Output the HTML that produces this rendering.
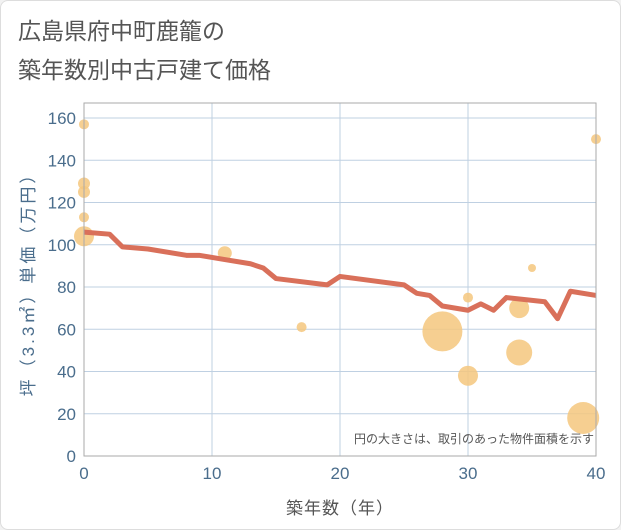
<!DOCTYPE html>
<html><head><meta charset="utf-8"><style>
body{margin:0;background:#f2f2f2;font-family:"Liberation Sans","Noto Sans CJK JP",sans-serif;}
#card{position:absolute;left:0;top:0;width:619px;height:528px;background:#fff;border:1px solid #ddd;border-radius:8px;}
</style></head><body>
<div id="card">
<svg width="621" height="530" style="position:absolute;left:-1px;top:-1px">
<text x="18" y="39" font-size="23" fill="#555">広島県府中町鹿籠の</text>
<text x="18" y="78" font-size="23" fill="#555">築年数別中古戸建て価格</text>
<g id="grid"></g>
<g id="bubbles"></g>
<g id="line"></g>
<g id="axes"></g>
<text x="594" y="443" font-size="12" fill="#555" text-anchor="end">円の大きさは、取引のあった物件面積を示す</text>
<text x="340" y="514" font-size="17" fill="#555" text-anchor="middle" letter-spacing="1">築年数（年）</text>
<text transform="translate(34,280) rotate(-90)" font-size="17" fill="#4a6d8c" text-anchor="middle" letter-spacing="3">坪（3.3㎡）単価（万円）</text>
</svg></div>
<script>
const xTicks=[0,10,20,30,40];
const yTicks=[0,20,40,60,80,100,120,140,160];
const lineX=[0,2,3,5,8,9,11,13,14,15,19,20,25,26,27,28,30,31,32,33,36,37,38,40];
const lineY=[106,105,99,98,95,95,93,91,89,84,81,85,81,77,76,71,69,72,69,75,73,65,78,76];
const bubX=[0,0,0,0,0,11,17,28,30,30,34,34,35,39,40];
const bubY=[157,129,125,113,104,96,61,59,75,38,70,49,89,18,150];
const bubR=[5,6,6,5,10,7,5,20,5,10,10,13,4,16,5];
const X0=84,X1=596,Y0=456,Y1=118,PT=103;
const sx=v=>X0+(X1-X0)*v/40, sy=v=>Y0-(Y0-Y1)*v/160;
const NS="http://www.w3.org/2000/svg";
function mk(t,a,p){const e=document.createElementNS(NS,t);for(const k in a)e.setAttribute(k,a[k]);p.appendChild(e);return e;}
const g=document.getElementById('grid'),ax=document.getElementById('axes');
yTicks.forEach(v=>{const l=mk('line',{x1:X0,x2:X1,y1:sy(v),y2:sy(v),stroke:'#bfd0e2','stroke-width':1},g);

const t=mk('text',{x:X0-8,y:sy(v)+6,'font-size':17,fill:'#4a6d8c','text-anchor':'end'},ax);t.textContent=v;
});
xTicks.forEach(v=>{const l=mk('line',{x1:sx(v),x2:sx(v),y1:PT,y2:Y0,stroke:'#bfd0e2','stroke-width':1},g);

const t=mk('text',{x:sx(v),y:Y0+23,'font-size':17,fill:'#4a6d8c','text-anchor':'middle'},ax);t.textContent=v;
});
const fr=mk('rect',{x:X0,y:PT,width:X1-X0,height:Y0-PT,fill:'none',stroke:'#aaa','stroke-width':1},ax);

const b=document.getElementById('bubbles');
bubX.forEach((v,i)=>{const c=mk('circle',{cx:sx(v),cy:sy(bubY[i]),r:bubR[i],fill:'#f5c77e','fill-opacity':0.85},b);
});
const pl=mk('polyline',{points:lineX.map((v,i)=>sx(v)+','+sy(lineY[i])).join(' '),fill:'none',stroke:'#d9705a','stroke-width':5,'stroke-linejoin':'round'},document.getElementById('line'));

</script>
</body></html>
